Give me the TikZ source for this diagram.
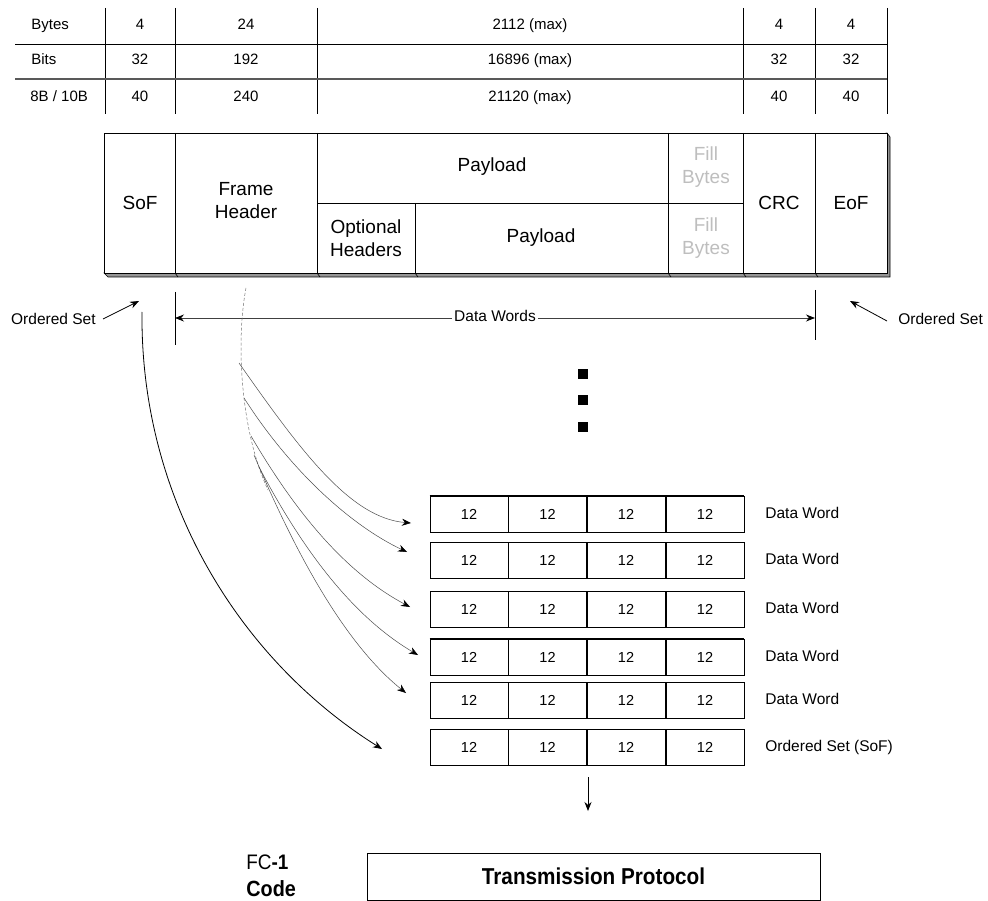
\documentclass[tikz,border=0pt]{standalone}
\usepackage{fontspec}
\setmainfont{Liberation Sans}
\newfontfamily\narrowsans[FakeStretch=0.9]{Liberation Sans}
\usetikzlibrary{arrows.meta,calc}
\definecolor{fillgray}{RGB}{190,190,190}
\definecolor{shadowgray}{RGB}{150,150,150}
\begin{document}
\begin{tikzpicture}[x=1pt,y=-1pt,
  tabtxt/.style={font=\fontsize{15}{17}\selectfont, inner sep=0pt, text height=11pt, text depth=3pt},
  frametxt/.style={font=\fontsize{19}{23}\selectfont, align=center, inner sep=0pt},
  filltxt/.style={frametxt, text=fillgray},
  smalltxt/.style={font=\fontsize{15.5}{18}\selectfont, inner sep=0pt, text height=11pt, text depth=3pt},
  cell/.style={draw, line width=0.8pt, minimum width=78pt, minimum height=36pt, inner sep=0pt, font=\fontsize{14.5}{16}\selectfont},
  tip/.style={-{Stealth[length=9pt,width=7pt,color=black]}},
  thin curve/.style={tip, draw=black!70, line width=0.5pt},
  line width=0.8pt]
\useasboundingbox (0,0) rectangle (988,901);

% ---------- size table ----------
\foreach \x in {105,175,317,743,815,887}
  \draw (\x,8) -- (\x,114);
\draw (15,44) -- (887,44);
\draw[line width=1.2pt, black!65] (15,79) -- (887,79);

\node[tabtxt, anchor=west] (hBytes) at (31,26) {Bytes};
\node[tabtxt, anchor=west] (hBits)  at (31,61) {Bits};
\node[tabtxt, anchor=west] (hEnc)   at (30,98) {8B / 10B};
\foreach \cx/\a/\b/\c [count=\i] in {140/4/32/40, 246/24/192/240, 530/2112 (max)/16896 (max)/21120 (max), 779/4/32/40, 851/4/32/40}{
  \node[tabtxt] (by\i) at (\cx,26) {\a};
  \node[tabtxt] (bi\i) at (\cx,61) {\b};
  \node[tabtxt] (en\i) at (\cx,98) {\c};
}

% ---------- frame with raised shadow ----------
\filldraw[fill=shadowgray, line width=0.6pt] (104,273) -- (108,277) -- (890,277) -- (890,137) -- (887,133) -- cycle;
\foreach \x in {175,317,415,668,743,815}
  \draw[line width=0.6pt] (\x,273) -- (\x+3,277);
\filldraw[fill=white] (104,133) rectangle (887,273);
\foreach \x in {175,317,743,815}
  \draw (\x,133) -- (\x,273);
\draw (317,203) -- (743,203);
\draw (668,133) -- (668,273);
\draw (415,203) -- (415,273);

\node[frametxt] (sof)  at (140,203) {SoF};
\node[frametxt] (fh)   at (246,201) {Frame\\Header};
\node[frametxt] (pl)   at (492,167) {Payload};
\node[filltxt]  (fb1)  at (706,167) {Fill\\Bytes};
\node[frametxt] (oh)   at (366,238) {Optional\\Headers};
\node[frametxt] (pl2)  at (541,238) {Payload};
\node[filltxt]  (fb2)  at (706,238) {Fill\\Bytes};
\node[frametxt] (crc)  at (779,203) {CRC};
\node[frametxt] (eof)  at (851,203) {EoF};

% ---------- ordered sets and data word span ----------
\node[smalltxt, anchor=east] (osl) at (96,320) {Ordered Set};
\node[smalltxt, anchor=west] (osr) at (898,320) {Ordered Set};
\coordinate (oslTip) at (139,301);
\coordinate (osrTip) at (850,301);
\draw[tip] ($(osl.east)+(7,-1)$) -- (oslTip);
\draw[tip] ($(osr.west)+(-11,1)$) -- (osrTip);

\draw (175,292) -- (175,345);
\draw (815,290) -- (815,340);
\coordinate (dwl) at (175,318);
\coordinate (dwr) at (815,318);
\node[smalltxt, fill=white, inner xsep=2pt] (dw) at (495,318) {Data Words};
\draw[tip, black!75] (dw.west) -- (dwl);
\draw[tip, black!75] (dw.east) -- (dwr);

% ---------- continuation dots ----------
\foreach \y [count=\i] in {374,400,427}
  \node[fill=black, minimum size=10pt, inner sep=0pt] (dot\i) at (583,\y) {};

% ---------- transmission words ----------
\foreach \y/\lab [count=\r] in {514/Data Word, 560/Data Word, 609/Data Word, 657/Data Word, 700/Data Word, 747/Ordered Set (SoF)}{
  \foreach \cx [count=\c] in {469,547.5,626,705}
    \node[cell] (w\r c\c) at (\cx,\y) {12};
  \node[smalltxt, anchor=west] (wl\r) at (765,\y) {\lab};
}
\draw[line width=1.6pt] (w1c1.north west) -- (w1c4.north east);
\draw[line width=1.6pt] (w4c1.north west) -- (w4c4.north east);

% ---------- mapping of frame parts to words ----------
\coordinate (fhBase) at (246,288);
\draw[black!55, densely dashed, line width=0.5pt] (fhBase) .. controls (236,340) and (240,430) .. (268,490);
\coordinate (m1) at (239,363);
\coordinate (m2) at (244,398);
\coordinate (m3) at (251,436);
\coordinate (m4) at (259,467);
\coordinate (m5) at (254,455);
\coordinate (t1) at (411,523);
\coordinate (t2) at (407,552);
\coordinate (t3) at (410,607);
\coordinate (t4) at (418,655);
\coordinate (t5) at (406,693);
\draw[thin curve] (m1) .. controls (300,450) and (350,518) .. (t1);
\draw[thin curve] (m2) .. controls (290,470) and (350,525) .. (t2);
\draw[thin curve] (m3) .. controls (300,520) and (350,575) .. (t3);
\draw[thin curve] (m4) .. controls (300,545) and (350,615) .. (t4);
\draw[thin curve] (m5) .. controls (290,540) and (340,640) .. (t5);

\coordinate (sofBase) at (142,312);
\coordinate (sofTip) at (382,749);
\draw[tip] (sofBase) .. controls (140,500) and (240,660) .. (sofTip);

% ---------- hand-off to FC-1 ----------
\coordinate (dnStart) at (588,777);
\coordinate (dnEnd) at (588,811);
\draw[tip] (dnStart) -- (dnEnd);

\node[draw, line width=1pt, minimum width=453pt, minimum height=47pt, inner sep=0pt,
      font=\narrowsans\bfseries\fontsize{23}{26}\selectfont] (tp) at (593.5,876.5) {Transmission Protocol};
\node[anchor=west, inner sep=0pt, font=\narrowsans\fontsize{21}{24}\selectfont] (fc1) at (246,862) {FC\textbf{-1}};
\node[anchor=west, inner sep=0pt, font=\narrowsans\bfseries\fontsize{22}{24}\selectfont] (code) at (246,889) {Code};
\end{tikzpicture}
\end{document}
